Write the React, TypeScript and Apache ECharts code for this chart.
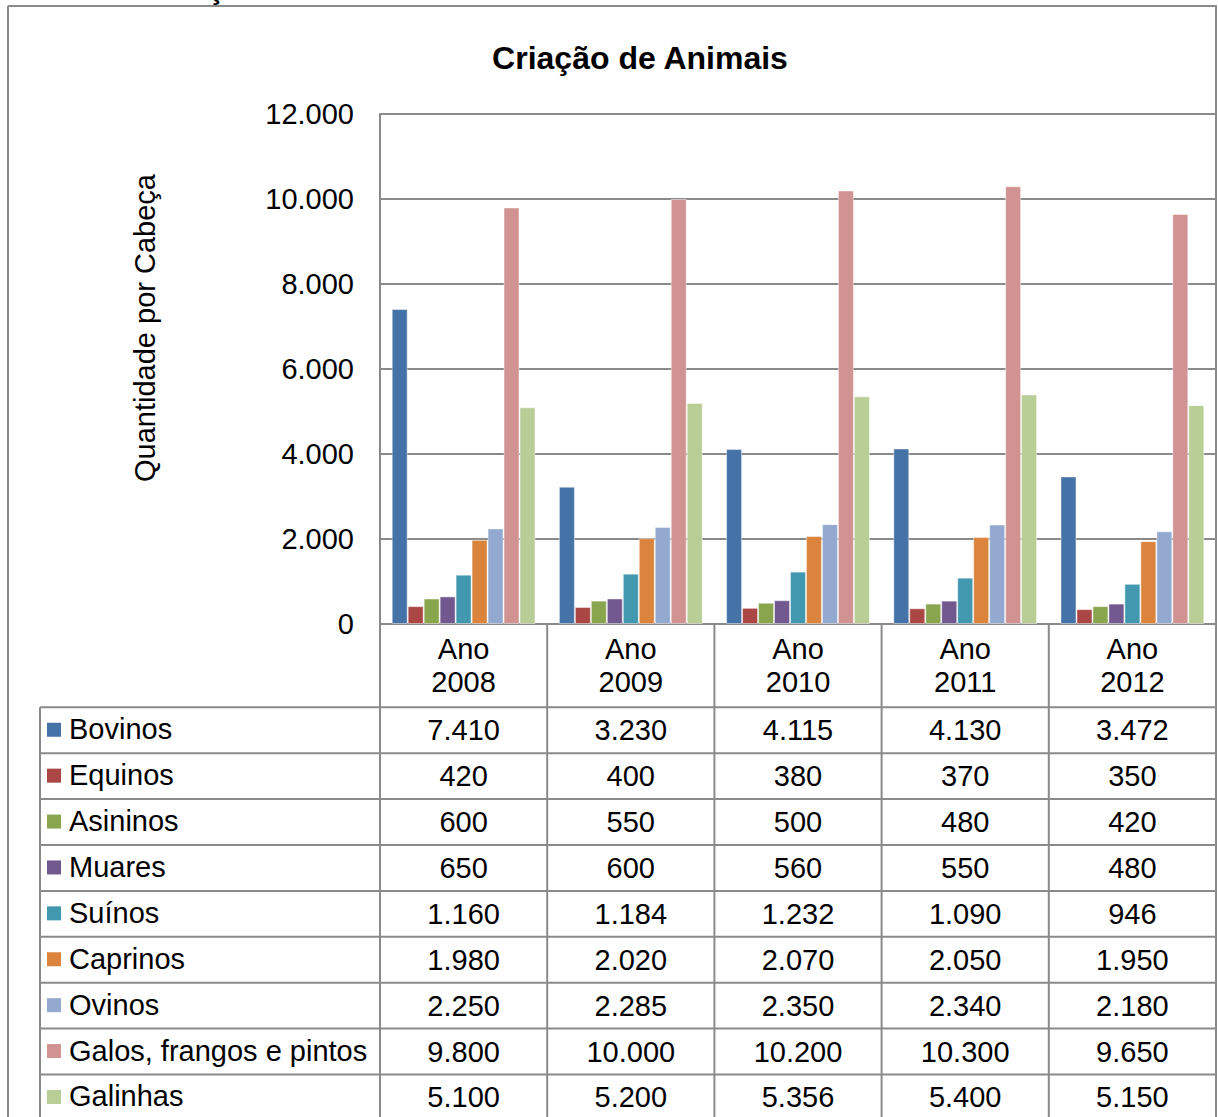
import React, { useEffect, useRef } from "react";
import * as echarts from "echarts";

const categories = ["Ano\n2008", "Ano\n2009", "Ano\n2010", "Ano\n2011", "Ano\n2012"];
const seriesNames = [
  "Bovinos",
  "Equinos",
  "Asininos",
  "Muares",
  "Suínos",
  "Caprinos",
  "Ovinos",
  "Galos, frangos e pintos",
  "Galinhas",
];
const bovinos = [7410, 3230, 4115, 4130, 3472];
const equinos = [420, 400, 380, 370, 350];
const asininos = [600, 550, 500, 480, 420];
const muares = [650, 600, 560, 550, 480];
const suinos = [1160, 1184, 1232, 1090, 946];
const caprinos = [1980, 2020, 2070, 2050, 1950];
const ovinos = [2250, 2285, 2350, 2340, 2180];
const galos = [9800, 10000, 10200, 10300, 9650];
const galinhas = [5100, 5200, 5356, 5400, 5150];
const seriesValues = [bovinos, equinos, asininos, muares, suinos, caprinos, ovinos, galos, galinhas];
const colors = [
  "#4572A7",
  "#AA4643",
  "#89A54E",
  "#71588F",
  "#4198AF",
  "#DB843D",
  "#93A9CF",
  "#D19392",
  "#B9CD96",
];
const yTicks = [0, 2000, 4000, 6000, 8000, 10000, 12000];
const chartTitle = "Criação de Animais";
const yAxisTitle = "Quantidade por Cabeça";

const FONT = "'Liberation Sans', Arial, sans-serif";
const GRAY = "#8a8a8a";

function fmt(v: number): string {
  const s = String(Math.round(v));
  return s.replace(/\B(?=(\d{3})+(?!\d))/g, ".");
}

const GRID = { left: 380, top: 114, width: 836, height: 510 };
const ROW_TOP = 707.3;
const ROW_H = 45.9;
const TABLE_LEFT = 40;

export default function App() {
  const ref = useRef<HTMLDivElement>(null);
  useEffect(() => {
    if (!ref.current) return;
    const chart = echarts.init(ref.current, null, { renderer: "svg" });
    const base: any = {
      animation: false,
      backgroundColor: "#ffffff",
      title: {
        text: chartTitle,
        left: 635,
        top: 37,
        textAlign: "center",
        textStyle: { fontFamily: FONT, fontSize: 32, fontWeight: "bold", color: "#000" },
      },
      grid: { ...GRID },
      xAxis: {
        type: "category",
        data: categories,
        axisLine: { show: true, lineStyle: { color: GRAY, width: 2 } },
        axisTick: { show: false },
        axisLabel: {
          fontFamily: FONT,
          fontSize: 29,
          lineHeight: 33,
          color: "#000",
          margin: 8,
        },
      },
      yAxis: {
        type: "value",
        min: yTicks[0],
        max: yTicks[yTicks.length - 1],
        interval: yTicks[1] - yTicks[0],
        axisLine: { show: true, lineStyle: { color: GRAY, width: 2 } },
        axisTick: { show: false },
        splitLine: { show: true, lineStyle: { color: GRAY, width: 2 } },
        axisLabel: {
          fontFamily: FONT,
          fontSize: 29,
          color: "#000",
          margin: 26,
          formatter: (v: number) => fmt(v),
        },
      },
      series: seriesNames.map((name, i) => ({
        name,
        type: "bar",
        data: seriesValues[i],
        barGap: 0,
        barCategoryGap: "14%",
        itemStyle: { color: colors[i], borderColor: "rgba(255,255,255,0.45)", borderWidth: 1 },
      })),
    };
    chart.setOption(base);

    const centers = categories.map((_, i) => chart.convertToPixel({ xAxisIndex: 0 }, i) as number);
    const band = centers.length > 1 ? centers[1] - centers[0] : GRID.width;
    const bounds = [centers[0] - band / 2, ...centers.map((c) => c + band / 2)];
    const axisY = chart.convertToPixel({ yAxisIndex: 0 }, 0) as number;
    const nRows = seriesNames.length;
    const bottom = ROW_TOP + ROW_H * nRows;

    const g: any[] = [];
    const line = (x1: number, y1: number, x2: number, y2: number) =>
      g.push({
        type: "line",
        shape: { x1, y1, x2, y2 },
        style: { stroke: GRAY, lineWidth: 2 },
        silent: true,
      });

    // outer frame
    line(8, 6, 1217, 6);
    line(8, 6, 8, 1117);
    line(1216, 6, 1216, 1117);

    // header cell verticals
    bounds.forEach((x) => line(x, axisY, x, bottom));
    // row lines
    for (let r = 0; r <= nRows; r++) {
      const y = ROW_TOP + r * ROW_H;
      line(TABLE_LEFT, y, bounds[bounds.length - 1], y);
    }
    line(TABLE_LEFT, ROW_TOP, TABLE_LEFT, bottom);

    // row labels & keys
    seriesNames.forEach((name, r) => {
      const cy = ROW_TOP + r * ROW_H + ROW_H / 2;
      g.push({
        type: "rect",
        shape: { x: 47, y: cy - 7.5, width: 14, height: 14 },
        style: { fill: colors[r] },
        silent: true,
      });
      g.push({
        type: "text",
        x: 69,
        y: cy - 1,
        style: {
          text: name,
          fontFamily: FONT,
          fontSize: 29,
          fill: "#000",
          align: "left",
          verticalAlign: "middle",
        },
        silent: true,
      });
      seriesValues[r].forEach((v, c) => {
        g.push({
          type: "text",
          x: centers[c],
          y: cy,
          style: {
            text: fmt(v),
            fontFamily: FONT,
            fontSize: 29,
            fill: "#000",
            align: "center",
            verticalAlign: "middle",
          },
          silent: true,
        });
      });
    });

    // y axis title
    g.push({
      type: "text",
      x: 145,
      y: 328,
      rotation: Math.PI / 2,
      style: {
        text: yAxisTitle,
        fontFamily: FONT,
        fontSize: 29,
        fill: "#000",
        align: "center",
        verticalAlign: "middle",
      },
      silent: true,
    });

    // cut-off glyph at the very top (as in the reference)
    g.push({
      type: "text",
      x: 216,
      y: -11,
      style: {
        text: "ç",
        fontFamily: FONT,
        fontSize: 29,
        fontWeight: "bold",
        fill: "#000",
        align: "center",
        verticalAlign: "middle",
      },
      silent: true,
    });

    chart.setOption({ graphic: g });
    return () => chart.dispose();
  }, []);
  return (
    <div
      ref={ref}
      style={{ position: "fixed", left: 0, top: 0, width: 1218, height: 1117, background: "#fff" }}
    />
  );
}
